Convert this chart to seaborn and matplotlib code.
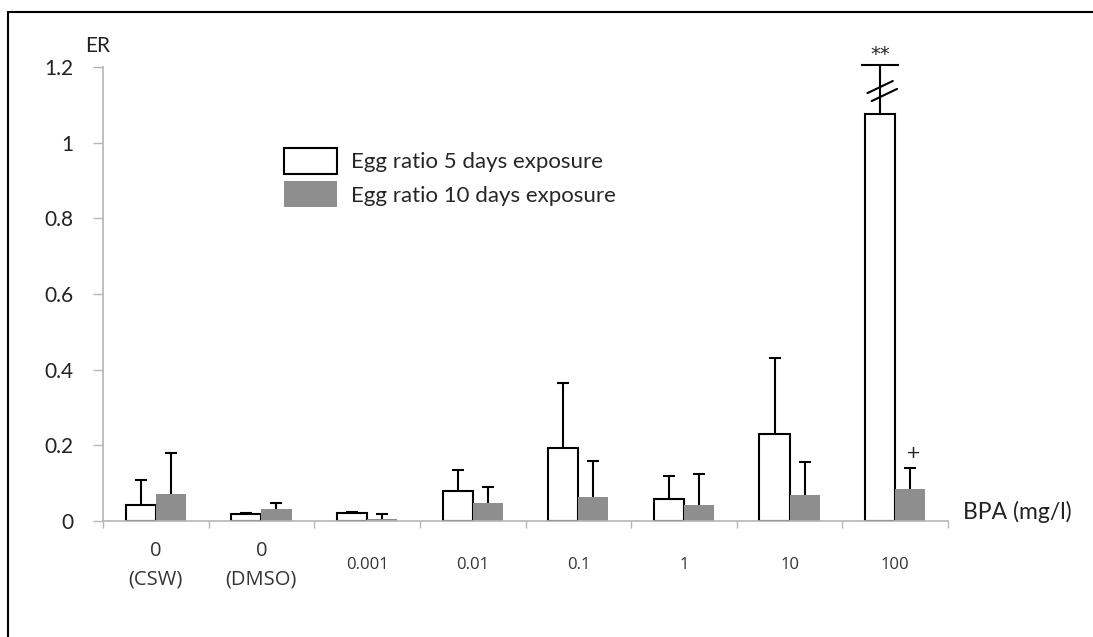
import numpy as np
import pandas as pd
import matplotlib
matplotlib.use("Agg")
import matplotlib.pyplot as plt
import matplotlib.transforms as mtransforms
import seaborn as sns
from matplotlib.patches import Patch
from matplotlib.lines import Line2D

# ---- data ----
categories = ["0\n(CSW)", "0\n(DMSO)", "0.001", "0.01", "0.1", "1", "10", "100"]
series = ["Egg ratio 5 days exposure", "Egg ratio 10 days exposure"]
er_5d = [0.042, 0.019, 0.021, 0.080, 0.194, 0.058, 0.231, 1.077]
er_5d_sd = [0.067, 0.003, 0.002, 0.055, 0.172, 0.061, 0.200, 0.128]
er_10d = [0.072, 0.032, 0.005, 0.048, 0.064, 0.042, 0.069, 0.085]
er_10d_sd = [0.108, 0.016, 0.013, 0.042, 0.095, 0.082, 0.087, 0.055]
y_ticks = [0, 0.2, 0.4, 0.6, 0.8, 1.0, 1.2]
y_tick_labels = ["0", "0.2", "0.4", "0.6", "0.8", "1", "1.2"]

df = pd.DataFrame({
    "BPA": categories * 2,
    "series": [series[0]] * len(categories) + [series[1]] * len(categories),
    "ER": er_5d + er_10d,
})
sds = [er_5d_sd, er_10d_sd]

sns.set_theme(style="white")
plt.rcParams["font.family"] = ["Lato", "DejaVu Sans"]

fig = plt.figure(figsize=(10.93, 6.37), dpi=100)
ax = fig.add_axes([103 / 1093, 1 - 521 / 637, (948 - 103) / 1093, (521 - 67) / 637])

colors = {series[0]: "white", series[1]: "#8e8e8e"}
sns.barplot(data=df, x="BPA", y="ER", hue="series", order=categories,
            hue_order=series, palette=colors, width=0.57, errorbar=None,
            legend=False, ax=ax, saturation=1)

bar_conts = list(ax.containers)
edge = ["black", "none"]
for ci, cont in enumerate(bar_conts):
    for bi, bar in enumerate(cont.patches):
        bar.set_edgecolor(edge[ci])
        bar.set_linewidth(1.5 if ci == 0 else 0)
        xc = bar.get_x() + bar.get_width() / 2
        h = bar.get_height()
        cap = 13.5 if (ci == 0 and bi == len(categories) - 1) else 4.3
        eb = ax.errorbar(xc, h, yerr=[[0], [sds[ci][bi]]], fmt="none",
                         ecolor="black", elinewidth=1.5, capsize=cap,
                         capthick=1.5, clip_on=False, zorder=3)
        eb[1][0].set_visible(False)
        for c in eb[1]:
            c.set_clip_on(False)
        for lc in eb[2]:
            lc.set_clip_on(False)

# break marks and significance labels on the 100 mg/l group
b100 = bar_conts[0].patches[len(categories) - 1]
xc100 = b100.get_x() + b100.get_width() / 2
top100 = er_5d[-1] + er_5d_sd[-1]
for dx, yc in ((0.0, 1.147), (0.04, 1.126)):
    ax.plot([xc100 + dx - 0.12, xc100 + dx + 0.12], [yc - 0.016, yc + 0.016],
            color="black", lw=1.5, clip_on=False, zorder=4)
ax.annotate("**", (xc100, top100), xytext=(0, 1), textcoords="offset points",
            ha="center", va="bottom", fontsize=14, family="DejaVu Sans",
            annotation_clip=False)
g100 = bar_conts[1].patches[len(categories) - 1]
xg100 = g100.get_x() + g100.get_width() / 2
ax.annotate("+", (xg100, er_10d[-1] + er_10d_sd[-1]), xytext=(2, 4),
            textcoords="offset points", ha="center", va="bottom", fontsize=13,
            family="DejaVu Sans", annotation_clip=False)

# axes styling
ax.set_ylim(0, 1.2)
ax.set_xlim(-0.5, 7.44)
ax.set_yticks(y_ticks)
ax.set_yticklabels(y_tick_labels, fontsize=15, color="#222222")
ax.set_xticks(range(len(categories)))
ax.set_xticklabels(categories, fontsize=12, family="Open Sans", color="#333333",
                   linespacing=1.55)
x_offsets_px = [6, 14, 0, 0, 0, 0, 0, 0]
for i, lab in enumerate(ax.get_xticklabels()):
    lab.set_verticalalignment("center")
    if "\n" in lab.get_text():
        lab.set_fontsize(14.5)
    if x_offsets_px[i]:
        lab.set_transform(lab.get_transform() + mtransforms.ScaledTranslation(
            x_offsets_px[i] / 100, 0, fig.dpi_scale_trans))
ax.set_xticks(np.arange(-0.5, len(categories) - 0.4, 1.0), minor=True)
ax.tick_params(axis="x", which="major", length=0, pad=32)
ax.tick_params(axis="x", which="minor", length=5, width=1, color="#b5b5b5",
               direction="out", bottom=True)
ax.tick_params(axis="y", length=7, width=1, color="#b5b5b5", direction="out",
               left=True, pad=14)
for s in ["top", "right"]:
    ax.spines[s].set_visible(False)
for s in ["left", "bottom"]:
    ax.spines[s].set_color("#b5b5b5")
    ax.spines[s].set_linewidth(1.2)
ax.set_xlabel("")
ax.set_ylabel("")
ax.patch.set_alpha(0)

fig.text(85 / 1093, 1 - 46 / 637, "ER", fontsize=15, va="center", ha="left",
         color="#222222")
fig.text(963 / 1093, 1 - 512 / 637, "BPA (mg/l)", fontsize=16.5, va="center",
         ha="left", color="#222222")

handles = [Patch(facecolor="white", edgecolor="black", linewidth=1.5),
           Patch(facecolor="#8e8e8e", edgecolor="none")]
fig.legend(handles, series, loc="upper left",
           bbox_to_anchor=(284 / 1093, 1 - 148 / 637),
           bbox_transform=fig.transFigure, frameon=False, fontsize=16,
           handlelength=2.4, handleheight=1.4, handletextpad=0.6,
           labelspacing=0.35, borderpad=0, borderaxespad=0)

# page frame (left and top)
fig.add_artist(Line2D([8 / 1093, 8 / 1093], [0, 1 - 12 / 637],
                      transform=fig.transFigure, color="black", lw=1.5))
fig.add_artist(Line2D([8 / 1093, 1], [1 - 12 / 637, 1 - 12 / 637],
                      transform=fig.transFigure, color="black", lw=1.5))

fig.savefig("out.png", dpi=100)
